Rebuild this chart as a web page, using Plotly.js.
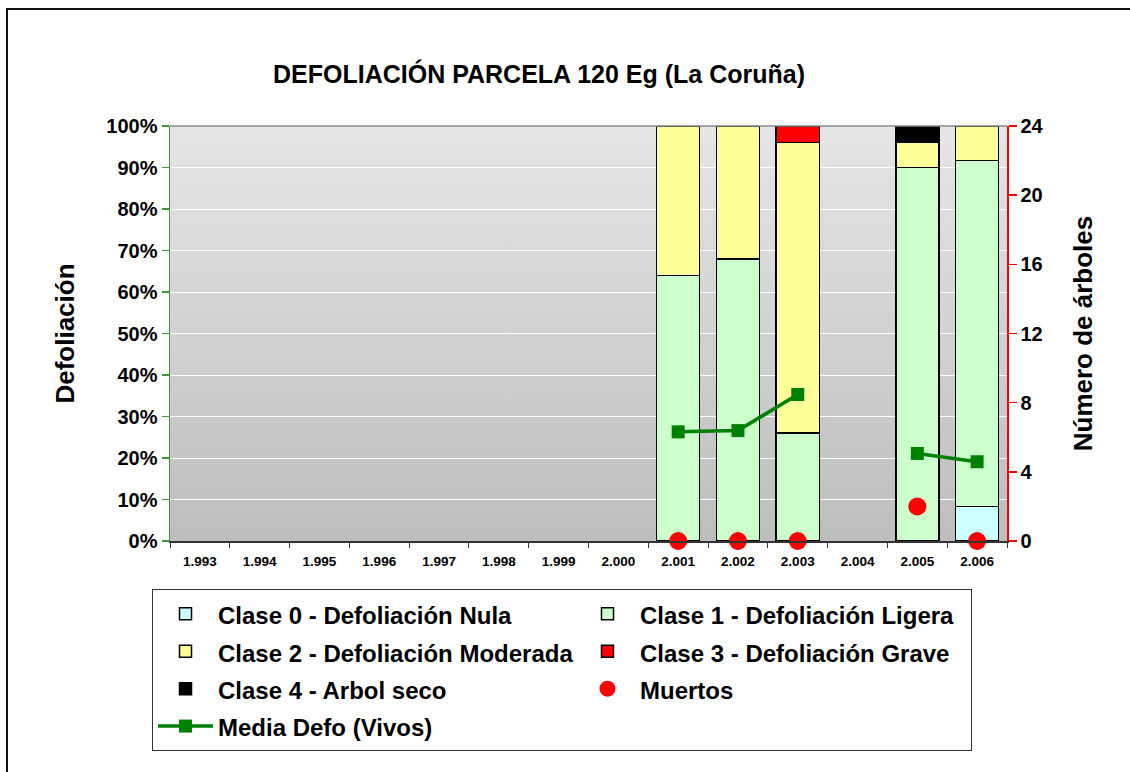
<!DOCTYPE html>
<html>
<head>
<meta charset="utf-8">
<script src="https://cdn.plot.ly/plotly-3.0.1.min.js"></script>
<style>html,body{margin:0;padding:0;background:#fff;}#chart{width:1130px;height:772px;}</style>
</head>
<body>
<div id="chart"></div>
<script>
// ---- data ----
var years = ['1.993','1.994','1.995','1.996','1.997','1.998','1.999','2.000','2.001','2.002','2.003','2.004','2.005','2.006'];
var clase0 = [null,null,null,null,null,null,null,null,null,null,null,null,null,8.33];
var clase1 = [null,null,null,null,null,null,null,null,64,68,26,null,90,83.33];
var clase2 = [null,null,null,null,null,null,null,null,36,32,70,null,6,8.33];
var clase3 = [null,null,null,null,null,null,null,null,null,null,4,null,null,null];
var clase4 = [null,null,null,null,null,null,null,null,null,null,null,null,4,null];
var muertos = [null,null,null,null,null,null,null,null,0,0,0,null,2,0];
var mediaDefo = [null,null,null,null,null,null,null,null,26.3,26.6,35.3,null,21.1,19.1];
var yTicks = [0,10,20,30,40,50,60,70,80,90,100];
var y2Ticks = [0,4,8,12,16,20,24];

var F = 'Liberation Sans, Arial, sans-serif';
function lg(t){ return '<span style="font-size:24px">' + t + '</span>'; }
var barLine = {color:'#000', width:1.5};

var traces = [
  {type:'bar', x:years, y:clase0, name:lg('Clase 0 - Defoliación Nula'), marker:{color:'#ccffff', line:barLine}, legendwidth:352},
  {type:'bar', x:years, y:clase1, name:lg('Clase 1 - Defoliación Ligera'), marker:{color:'#ccffcc', line:barLine}, legendwidth:326},
  {type:'bar', x:years, y:clase2, name:lg('Clase 2 - Defoliación Moderada'), marker:{color:'#ffff99', line:barLine}, legendwidth:352},
  {type:'bar', x:years, y:clase3, name:lg('Clase 3 - Defoliación Grave'), marker:{color:'#ff0000', line:barLine}, legendwidth:326},
  {type:'bar', x:years, y:clase4, name:lg('Clase 4 - Arbol seco'), marker:{color:'#000000', line:barLine}, legendwidth:352},
  {type:'scatter', mode:'markers', x:years, y:muertos, yaxis:'y2', name:lg('Muertos'), marker:{color:'#ff0000', size:18, symbol:'circle'}, cliponaxis:false, legendwidth:326},
  {type:'scatter', mode:'lines+markers', x:years, y:mediaDefo, name:lg('Media Defo (Vivos)'), line:{color:'#008000', width:3.5}, marker:{color:'#008000', size:13, symbol:'square'}, cliponaxis:false, legendwidth:352}
];

var grad = '<svg xmlns="http://www.w3.org/2000/svg" width="100" height="100" preserveAspectRatio="none"><defs><linearGradient id="g" x1="0" y1="0" x2="0" y2="1"><stop offset="0" stop-color="#e6e6e6"/><stop offset="1" stop-color="#bdbdbd"/></linearGradient></defs><rect width="100" height="100" fill="url(#g)"/></svg>';

var layout = {
  width:1130, height:772,
  margin:{l:170, r:123, t:126, b:231},
  paper_bgcolor:'#ffffff',
  plot_bgcolor:'rgba(0,0,0,0)',
  font:{family:F, color:'#000'},
  barmode:'stack',
  bargap:0.28,
  showlegend:true,
  title:{text:'<b>DEFOLIACIÓN PARCELA 120 Eg (La Coruña)</b>', font:{family:F, size:25, color:'#000'}, xref:'container', x:0.477, xanchor:'center', yref:'container', y:1-74/772, yanchor:'middle'},
  xaxis:{type:'category', categoryorder:'array', categoryarray:years, range:[-0.5,13.5],
    showline:true, linecolor:'#333', linewidth:1.5, ticks:'outside', tickson:'boundaries', ticklen:5, tickcolor:'#333', tickwidth:1,
    ticklabelstandoff:7,
    tickfont:{family:F, size:13.5, color:'#000', weight:'bold'}, showgrid:false, zeroline:false, fixedrange:true},
  yaxis:{range:[0,100], tickvals:yTicks, ticktext:yTicks.map(function(v){return v+'%';}),
    showline:true, linecolor:'#3a9a3a', linewidth:1.5, ticks:'outside', ticklen:7, tickcolor:'#3a9a3a', tickwidth:1.5,
    tickfont:{family:F, size:20, color:'#000', weight:'bold'},
    showgrid:true, gridcolor:'#ffffff', gridwidth:1, zeroline:false,
    title:{text:'<b>Defoliación</b>', font:{family:F, size:26, color:'#000'}, standoff:24}},
  yaxis2:{overlaying:'y', side:'right', range:[0,24], tickvals:y2Ticks,
    showline:true, linecolor:'#ff0000', linewidth:1.5, ticks:'outside', ticklen:8, tickcolor:'#ff0000', tickwidth:1.5,
    tickfont:{family:F, size:20, color:'#000', weight:'bold'}, showgrid:false, zeroline:false,
    title:{text:'<b>Número de árboles</b>', font:{family:F, size:26, color:'#000'}, standoff:31}},
  legend:{orientation:'h', x:(152-170)/837, xanchor:'left', y:(541-589)/415, yanchor:'top',
    bgcolor:'#ffffff', bordercolor:'#333', borderwidth:1, font:{family:F, size:26.5, color:'#000', weight:'bold'},
    itemwidth:55, traceorder:'normal', entrywidth:352, entrywidthmode:'pixels'},
  images:[{source:'data:image/svg+xml;charset=utf-8,' + encodeURIComponent(grad), xref:'paper', yref:'paper', x:0, y:1, sizex:1, sizey:1, sizing:'stretch', xanchor:'left', yanchor:'top', layer:'below'}],
  shapes:[
    {type:'line', xref:'paper', yref:'paper', x0:0, x1:1, y0:1, y1:1, line:{color:'#888', width:1.5}},
    {type:'rect', xref:'paper', yref:'paper', x0:(7-170)/837, x1:(1160-170)/837, y0:(541-9)/415, y1:(541-790)/415, line:{color:'#111', width:2}, fillcolor:'rgba(0,0,0,0)'}
  ]
};

Plotly.newPlot('chart', traces, layout, {displayModeBar:false, staticPlot:true});
</script>
</body>
</html>
